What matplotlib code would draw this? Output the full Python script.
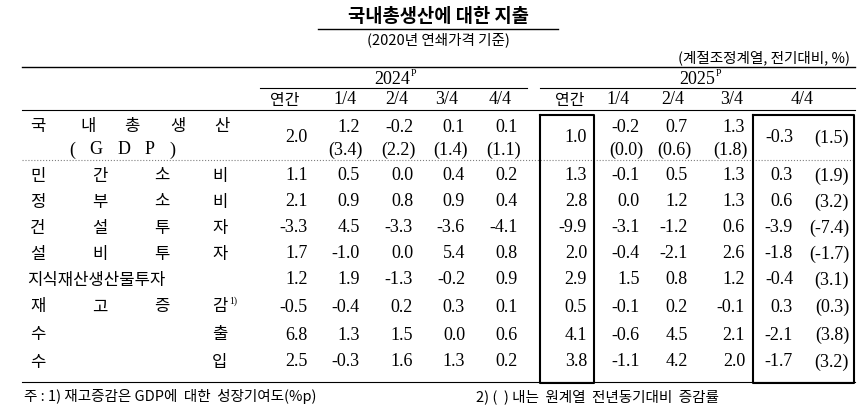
import matplotlib.pyplot as plt

KR = ['Noto Sans CJK KR', 'DejaVu Sans']
NUM = ['Liberation Serif', 'DejaVu Serif']

title = "국내총생산에 대한 지출"
subtitle = "(2020년 연쇄가격 기준)"
unit = "(계절조정계열, 전기대비, %)"
headers_2024 = ["연간", "1/4", "2/4", "3/4", "4/4"]
headers_2025 = ["연간", "1/4", "2/4", "3/4", "4/4"]

row_labels = ["민간소비", "정부소비", "건설투자", "설비투자", "지식재산생산물투자",
              "재고증감", "수출", "수입"]
v2024 = [[1.1, 0.5, 0.0, 0.4, 0.2],
         [2.1, 0.9, 0.8, 0.9, 0.4],
         [-3.3, 4.5, -3.3, -3.6, -4.1],
         [1.7, -1.0, 0.0, 5.4, 0.8],
         [1.2, 1.9, -1.3, -0.2, 0.9],
         [-0.5, -0.4, 0.2, 0.3, 0.1],
         [6.8, 1.3, 1.5, 0.0, 0.6],
         [2.5, -0.3, 1.6, 1.3, 0.2]]
v2025 = [[1.3, -0.1, 0.5, 1.3, 0.3],
         [2.8, 0.0, 1.2, 1.3, 0.6],
         [-9.9, -3.1, -1.2, 0.6, -3.9],
         [2.0, -0.4, -2.1, 2.6, -1.8],
         [2.9, 1.5, 0.8, 1.2, -0.4],
         [0.5, -0.1, 0.2, -0.1, 0.3],
         [4.1, -0.6, 4.5, 2.1, -2.1],
         [3.8, -1.1, 4.2, 2.0, -1.7]]
yoy_44 = [1.9, 3.2, -7.4, -1.7, 3.1, 0.3, 3.8, 3.2]

gdp_2024 = [2.0, 1.2, -0.2, 0.1, 0.1]
gdp_2024_yoy = [None, 3.4, 2.2, 1.4, 1.1]
gdp_2025 = [1.0, -0.2, 0.7, 1.3, -0.3]
gdp_2025_yoy = [None, 0.0, 0.6, 1.8, 1.5]

note1 = "주 : 1) 재고증감은 GDP에  대한  성장기여도(%p)"
note2 = "2) (  ) 내는  원계열  전년동기대비  증감률"


def fmt(v):
    return f"{v:.1f}"


fig = plt.figure(figsize=(8.6, 4.07), dpi=100)
ax = fig.add_axes([0, 0, 1, 1])
ax.set_xlim(0, 860)
ax.set_ylim(407, 0)
ax.axis('off')

fs = 13
# titles
ax.text(438, 16, title, family=KR, fontsize=13.5, fontweight='bold', ha='center', va='center')
ax.plot([318, 558], [29, 29], color='black', lw=1)
ax.text(438, 40, subtitle, family=KR, fontsize=10.5, ha='center', va='center')
ax.text(850, 58, unit, family=KR, fontsize=10.5, ha='right', va='center')

# rules
ax.plot([22, 855], [67, 67], color='black', lw=1)
ax.plot([260, 527], [88, 88], color='black', lw=0.8)
ax.plot([540, 855], [88, 88], color='black', lw=0.8)
ax.plot([22, 855], [110, 110], color='black', lw=0.8)
ax.plot([22, 855], [160, 160], color='gray', lw=0.8, ls=':')
ax.plot([22, 855], [382, 382], color='black', lw=0.8)

ax.text(392, 79, "2024", family=NUM, fontsize=fs, ha='center', va='center')
ax.text(411, 74, "P", family=NUM, fontsize=7, ha='left', va='center')
ax.text(697, 79, "2025", family=NUM, fontsize=fs, ha='center', va='center')
ax.text(716, 74, "P", family=NUM, fontsize=7, ha='left', va='center')

hx24 = [285, 345, 397, 447, 500]
hx25 = [570, 618, 673, 732, 802]
for x, h in zip(hx24 + hx25, headers_2024 + headers_2025):
    ax.text(x, 100, h, family=KR if h == "연간" else NUM, fontsize=fs if h != "연간" else 11.5,
            ha='center', va='center')

rx24 = [308, 360, 413, 465, 518]
rx25 = [587, 640, 688, 745, 793]
par_x = 849

# GDP row
for i in range(5):
    if gdp_2024_yoy[i] is None:
        ax.text(rx24[i], 138, fmt(gdp_2024[i]), family=NUM, fontsize=fs, ha='right', va='center')
    else:
        ax.text(rx24[i], 127, fmt(gdp_2024[i]), family=NUM, fontsize=fs, ha='right', va='center')
        ax.text(rx24[i] + 3, 150, f"({fmt(gdp_2024_yoy[i])})", family=NUM, fontsize=fs, ha='right', va='center')
for i in range(4):
    if gdp_2025_yoy[i] is None:
        ax.text(rx25[i], 138, fmt(gdp_2025[i]), family=NUM, fontsize=fs, ha='right', va='center')
    else:
        ax.text(rx25[i], 127, fmt(gdp_2025[i]), family=NUM, fontsize=fs, ha='right', va='center')
        ax.text(rx25[i] + 3, 150, f"({fmt(gdp_2025_yoy[i])})", family=NUM, fontsize=fs, ha='right', va='center')
ax.text(rx25[4], 138, fmt(gdp_2025[4]), family=NUM, fontsize=fs, ha='right', va='center')
ax.text(par_x, 138, f"({fmt(gdp_2025_yoy[4])})", family=NUM, fontsize=fs, ha='right', va='center')

for x, ch in zip([38, 88, 132, 178, 222], "국내총생산"):
    ax.text(x, 127, ch, family=KR, fontsize=12, ha='center', va='center')
for x, ch in zip([72, 96, 124, 150, 172], "(GDP)"):
    ax.text(x, 150, ch, family=NUM, fontsize=fs, ha='center', va='center')

row_y = [176, 202, 228, 254, 280, 307, 335, 362]
for label, y, a, b, yy in zip(row_labels, row_y, v2024, v2025, yoy_44):
    if len(label) == 4:
        xs = [38, 100, 162, 220]
    elif len(label) == 2:
        xs = [38, 220]
    else:
        xs = None
    if xs:
        for x, ch in zip(xs, label):
            ax.text(x, y, ch, family=KR, fontsize=12, ha='center', va='center')
    else:
        ax.text(27, y, label, family=KR, fontsize=12, ha='left', va='center')
    if label == "재고증감":
        ax.text(229, y - 6, "1)", family=NUM, fontsize=7, ha='left', va='center')
    for x, v in zip(rx24, a):
        ax.text(x, y, fmt(v), family=NUM, fontsize=fs, ha='right', va='center')
    for x, v in zip(rx25, b):
        ax.text(x, y, fmt(v), family=NUM, fontsize=fs, ha='right', va='center')
    ax.text(par_x, y, f"({fmt(yy)})", family=NUM, fontsize=fs, ha='right', va='center')

# highlight boxes
for x0, x1 in [(540, 594), (753, 854)]:
    ax.plot([x0, x1, x1, x0, x0], [115, 115, 383, 383, 115], color='black', lw=1.5)

ax.text(24, 397, note1, family=KR, fontsize=10.5, ha='left', va='center')
ax.text(476, 397, note2, family=KR, fontsize=10.5, ha='left', va='center')

fig.savefig("out.png", dpi=100)
